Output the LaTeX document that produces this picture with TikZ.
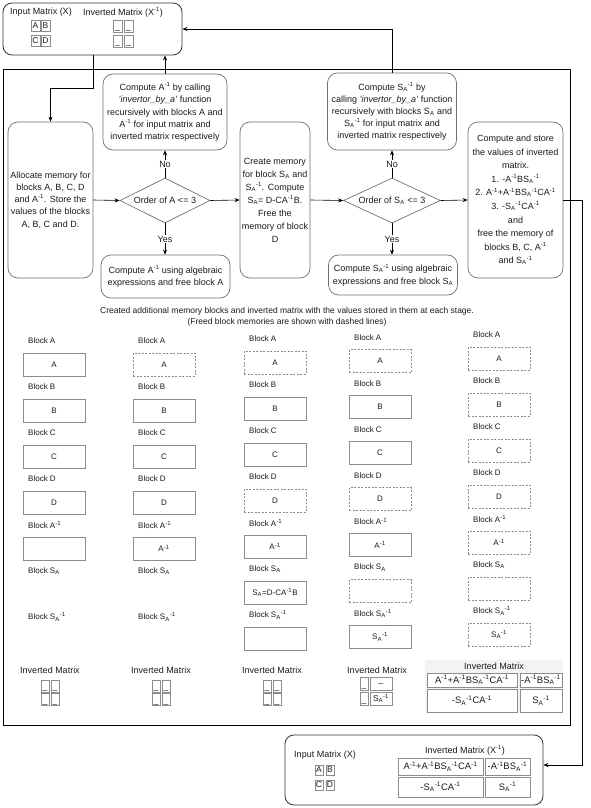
\documentclass[tikz,border=0pt]{standalone}
\usepackage{fontspec}
\setmainfont{Liberation Sans}
\usetikzlibrary{arrows.meta,shapes.geometric}

\definecolor{linegray}{HTML}{707070}
\definecolor{cellgray}{HTML}{8C8C8C}
\definecolor{inkgray}{HTML}{1A1A1A}
\definecolor{shadegray}{HTML}{F3F3F3}

\newcommand{\Ainv}{A\textsuperscript{-1}}
\newcommand{\SA}{S\textsubscript{A}}
\newcommand{\SAinv}{S\textsubscript{A}\textsuperscript{-1}}

\begin{document}
\begin{tikzpicture}[
    x=1pt,y=-1pt,
    every node/.style={font=\fontsize{9}{11}\selectfont,align=center,text=inkgray},
    flow/.style={draw=linegray,line width=0.7pt,rounded corners=10pt,inner sep=2pt,font=\fontsize{9}{12.2}\selectfont},
    decision/.style={draw=linegray,line width=0.7pt,diamond,aspect=2,inner sep=0pt},
    holder/.style={draw=black!80,line width=0.8pt,rounded corners=9pt},
    blab/.style={anchor=west,inner sep=0pt,font=\fontsize{8}{9}\selectfont},
    mem/.style={draw=cellgray,line width=0.7pt,minimum width=62pt,minimum height=23pt,inner sep=0pt,font=\fontsize{8}{9}\selectfont},
    freed/.style={mem,dash pattern=on 2pt off 1.5pt},
    cell/.style={draw=cellgray,line width=0.7pt,inner sep=0pt,font=\fontsize{8.5}{9}\selectfont},
    emptycell/.style={cell,text height=7pt,text depth=0pt},
    termcell/.style={cell,font=\fontsize{9.4}{11}\selectfont},
    arrow/.style={-{Stealth[length=5pt,width=4pt]},black,line width=0.6pt}
]
\useasboundingbox (0,0) rectangle (590,808);

% outer stage frame
\node[draw=black,line width=0.7pt,minimum width=567pt,minimum height=656pt,inner sep=0pt] (stages) at (286.5,397) {};

% input / output holders
\node[holder,minimum width=179pt,minimum height=52pt] (topmat) at (92.5,29) {};
\node (toplab) at (41,12) {Input Matrix (X)};
\node (topinv) at (123,12) {Inverted Matrix (X\textsuperscript{-1})};
\node[cell,minimum width=9pt,minimum height=11pt] (tA) at (35.5,25.5) {A};
\node[cell,minimum width=9pt,minimum height=11pt] (tB) at (45.5,25.5) {B};
\node[cell,minimum width=9pt,minimum height=11pt] (tC) at (35.5,40.5) {C};
\node[cell,minimum width=9pt,minimum height=11pt] (tD) at (45.5,40.5) {D};
\foreach \n/\xc/\yc in {1/117.5/26,2/128.5/26,3/117.5/41,4/128.5/41}
  \node[emptycell,minimum width=9pt,minimum height=12pt] (tx\n) at (\xc,\yc) {\_};

% flow chart
\node[flow,minimum width=85pt,minimum height=156pt] (alloc) at (50.5,200) {Allocate memory for\\blocks A, B, C, D\\and \Ainv.  Store the\\values of the blocks\\A, B, C and D.};
\node[decision,minimum width=90pt,minimum height=45pt] (ordA) at (165,200.5) {Order of A <= 3};
\node[flow,minimum width=124pt,minimum height=76pt] (recA) at (165,112) {Compute \Ainv{} by calling\\\textit{'invertor\_by\_a'} function\\recursively with blocks A and\\\Ainv{} for input matrix and\\inverted matrix respectively};
\node[flow,minimum width=129pt,minimum height=43pt] (algA) at (165.5,276.5) {Compute \Ainv{}  using algebraic\\expressions and free block A};
\node[flow,minimum width=70pt,minimum height=156pt,font=\fontsize{9}{13}\selectfont] (mkS) at (275,200) {Create memory\\for block \SA{} and\\\SAinv. Compute\\\SA= D-C\Ainv B.\\Free the\\memory of block\\D};
\node[decision,minimum width=97pt,minimum height=45pt] (ordS) at (392,200.5) {Order of \SA{} <= 3};
\node[flow,minimum width=129pt,minimum height=77pt] (recS) at (392,111.5) {Compute \SAinv{} by\\calling \textit{'invertor\_by\_a'} function\\recursively with blocks \SA{} and\\\SAinv{} for input matrix and\\inverted matrix respectively};
\node[flow,minimum width=129pt,minimum height=40pt] (algS) at (393,275) {Compute \SAinv{} using algebraic\\expressions and free block \SA};
\node[flow,minimum width=95pt,minimum height=156pt,font=\fontsize{9}{13.6}\selectfont] (store) at (515.5,200) {Compute and store\\the values of inverted\\matrix.\\1. -\Ainv B\SAinv\\2. \Ainv+\Ainv B\SAinv C\Ainv\\3. -\SAinv C\Ainv\\and\\free the memory of\\blocks B, C, \Ainv\\and \SAinv};

\draw[arrow] (topmat.south -| alloc.east) -- ++(0,33) -| (alloc.north);
\draw[arrow] (recA.north) -- (recA.north |- topmat.south);
\draw[arrow] (recS.north) |- (topmat.east);
\draw[arrow] (alloc.east) -- (ordA.west);
\draw[arrow] (ordA.north) -- node[fill=white,inner sep=1pt] {No} (ordA.north |- recA.south);
\draw[arrow] (ordA.south) -- node[fill=white,inner sep=1pt] {Yes} (ordA.south |- algA.north);
\draw[arrow] (ordA.east) -- (mkS.west);
\draw[arrow] (mkS.east) -- (ordS.west);
\draw[arrow] (ordS.north) -- node[fill=white,inner sep=1pt] {No} (ordS.north |- recS.south);
\draw[arrow] (ordS.south) -- node[fill=white,inner sep=1pt] {Yes} (ordS.south |- algS.north);
\draw[arrow] (ordS.east) -- (store.west);

% memory stages
\node[font=\fontsize{8.5}{11}\selectfont] (note) at (287,317) {Created additional memory blocks and inverted matrix with the values stored in them at each stage.\\(Freed block memories are shown with dashed lines)};

\foreach \c/\xl/\dy in {1/23/0,2/133/0,3/244/-2,4/349/-3.5,5/468/-6}
  \foreach \r/\t in {0/Block A,1/Block B,2/Block C,3/Block D,4/Block \Ainv,5/Block \SA,6/Block \SAinv}
    \node[blab] (lab\c\r) at (\xl+5,341+46*\r+\dy) {\t};

\foreach \r/\t in {0/A,1/B,2/C,3/D,4/{}}
  \node[mem] (m1\r) at (54,364.5+46*\r) {\t};
\foreach \r/\s/\t in {0/freed/A,1/mem/B,2/mem/C,3/mem/D,4/mem/\Ainv}
  \node[\s] (m2\r) at (164,364.5+46*\r) {\t};
\foreach \r/\s/\t in {0/freed/A,1/mem/B,2/mem/C,3/freed/D,4/mem/\Ainv,5/mem/\SA=D-C\Ainv B,6/mem/{}}
  \node[\s] (m3\r) at (275,362.5+46*\r) {\t};
\foreach \r/\s/\t in {0/freed/A,1/mem/B,2/mem/C,3/freed/D,4/mem/\Ainv,5/freed/{},6/mem/\SAinv}
  \node[\s] (m4\r) at (380,361+46*\r) {\t};
\foreach \r/\t in {0/A,1/B,2/C,3/D,4/\Ainv,5/{},6/\SAinv}
  \node[freed] (m5\r) at (499,358.5+46*\r) {\t};

% inverted matrix at each stage
\foreach \c/\xm in {1/50,2/161,3/272}{
  \node (inv\c) at (\xm,670) {Inverted Matrix};
  \node[emptycell,minimum width=8pt,minimum height=12pt] (q\c1) at (\xm-5,686) {\_};
  \node[emptycell,minimum width=8pt,minimum height=12pt] (q\c2) at (\xm+5,686) {\_};
  \node[emptycell,minimum width=8pt,minimum height=12pt] (q\c3) at (\xm-5,699.5) {\_};
  \node[emptycell,minimum width=8pt,minimum height=12pt] (q\c4) at (\xm+5,699.5) {\_};
}
\node (inv4) at (377,670) {Inverted Matrix};
\node[emptycell,minimum width=8pt,minimum height=13pt] (q41) at (364,683.5) {\_};
\node[cell,minimum width=22pt,minimum height=13pt] (q42) at (381,683.5) {\_};
\node[emptycell,minimum width=8pt,minimum height=13pt] (q43) at (364,698.5) {\_};
\node[cell,minimum width=22pt,minimum height=13pt] (q44) at (381,698.5) {\SAinv};

\node[fill=shadegray,minimum width=138pt,minimum height=53pt,inner sep=0pt] (inv5bg) at (494,686.5) {};
\node (inv5) at (494,666) {Inverted Matrix};
\node[termcell,fill=white,minimum width=90pt,minimum height=14pt] (q51) at (472,680) {\Ainv+\Ainv B\SAinv C\Ainv};
\node[termcell,fill=white,minimum width=42pt,minimum height=14pt] (q52) at (541,680) {-\Ainv B\SAinv};
\node[termcell,fill=white,minimum width=90pt,minimum height=23pt] (q53) at (472,700.5) {-\SAinv C\Ainv};
\node[termcell,fill=white,minimum width=42pt,minimum height=23pt] (q54) at (541,700.5) {\SAinv};

% final result
\node[holder,minimum width=258pt,minimum height=70pt] (endmat) at (414,770) {};
\node (endlab) at (325,755) {Input Matrix (X)};
\node[cell,minimum width=8pt,minimum height=10pt] (eA) at (319,770) {A};
\node[cell,minimum width=8pt,minimum height=10pt] (eB) at (330,770) {B};
\node[cell,minimum width=8pt,minimum height=10pt] (eC) at (319,785) {C};
\node[cell,minimum width=8pt,minimum height=10pt] (eD) at (330,785) {D};
\node (endinv) at (465,750) {Inverted Matrix (X\textsuperscript{-1})};
\node[termcell,minimum width=85pt,minimum height=17pt] (e1) at (440.5,766.5) {\Ainv+\Ainv B\SAinv C\Ainv};
\node[termcell,minimum width=45pt,minimum height=17pt] (e2) at (507.5,766.5) {-\Ainv B\SAinv};
\node[termcell,minimum width=85pt,minimum height=20pt] (e3) at (440.5,787) {-\SAinv C\Ainv};
\node[termcell,minimum width=45pt,minimum height=20pt] (e4) at (507.5,787) {\SAinv};

\draw[arrow] (store.east) -- ++(19,0) |- ([yshift=5pt]endmat.east);
\end{tikzpicture}
\end{document}
